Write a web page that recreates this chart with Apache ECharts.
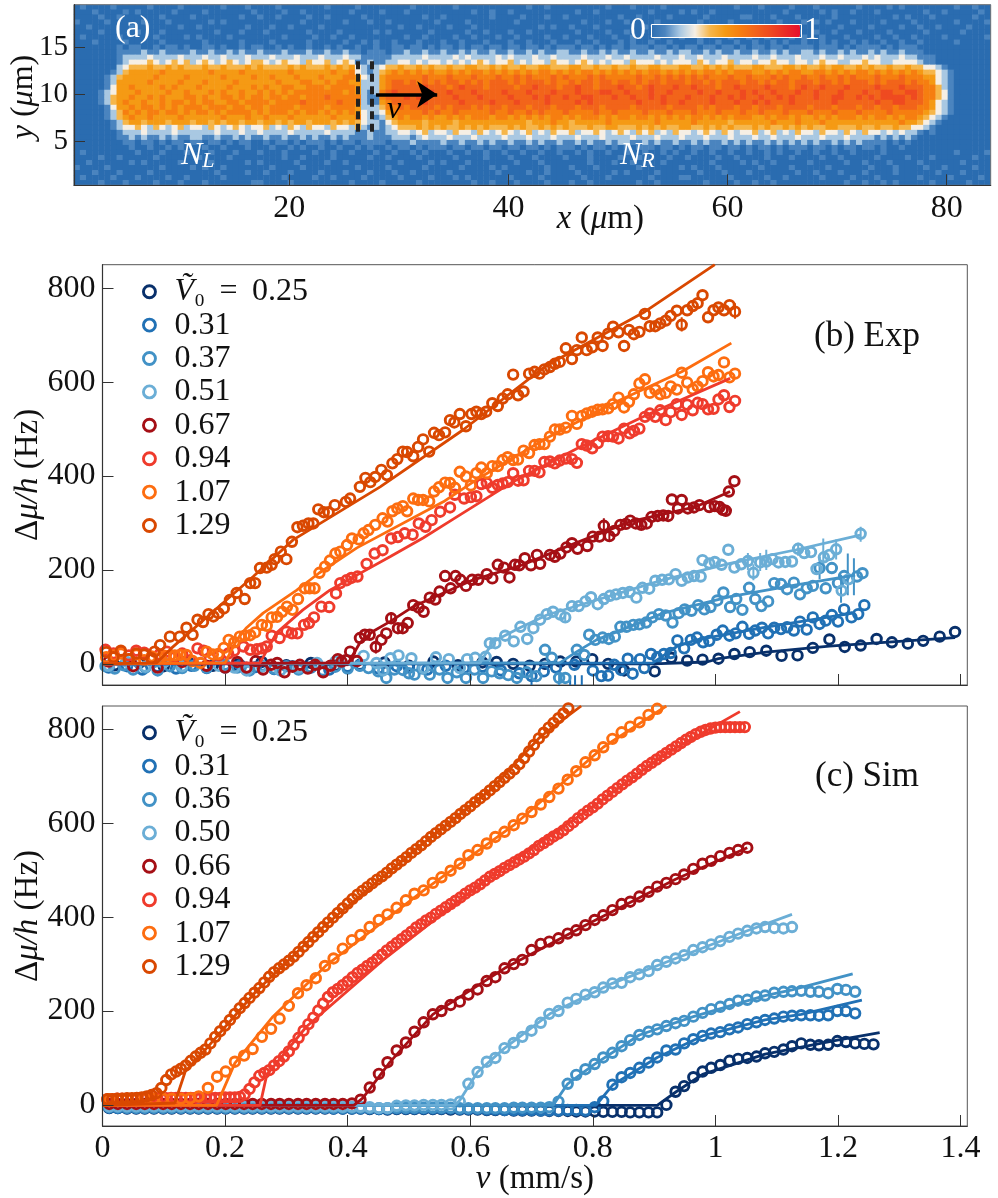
<!DOCTYPE html>
<html>
<head>
<meta charset="utf-8">
<style>
  html, body { margin: 0; padding: 0; background: #fff; }
  #main { width: 998px; height: 1198px; }
</style>
<script src="https://cdn.jsdelivr.net/npm/echarts@6/dist/echarts.min.js"></script>
</head>
<body>
<div id="main"></div>
<script>
// panel (a): density image, one digit per cell (digit/10 = colour bar value), rows from the top
const heatRows = [
  "0100001000 0010000100 0000100010 0001000000 0100001000 0000010000 0010000000 0000100100 0000000100 0100001000 0000000010 0010000100 0100000010 0001010000 0000100100",
  "0001000010 1000001000 0100000001 0000100100 0000010000 1000100000 0000010010 0100000000 0010010000 0000100001 0100100000 0000001000 0010100100 0100000001 0010000010",
  "0000100100 0000100001 0000000100 1001000010 0100000100 0000000100 1000000010 0001000100 1000000001 0010000100 0001000001 1000100010 0000100000 0000101000 1000000100",
  "1000010000 0100010000 0010100000 0000000100 0000100010 0100000001 0000100000 0010000000 0001000100 1000010000 0010000100 0000010001 0101000100 0010000100 0000100001",
  "0010000001 0000000100 1000000010 0010010000 1000000000 0001001000 0100010000 0000001010 0100010000 0001000010 1000001000 0100100000 0000010000 1000010010 0100001000",
  "0000100000 1000100000 0001000100 0100000010 0001000001 0100000010 0000100100 0100100000 0010000100 1000001000 0001010000 0010000010 0100100010 0001000001 0000010000",
  "0100000100 0001000010 1000010000 0000100001 0010010000 0000100100 0010010001 0010000100 1000100010 0100010001 0010000100 1001000101 0010001000 0100100100 0010000001",
  "0001000010 0000100000 0100000100 0010000010 0000100101 0010001000 1001000100 0100100010 0010010001 0100100100 0010010010 0100101001 0010100101 0010010010 0000100000",
  "0000000101 1001011010 0110100101 1001010010 0101001001 0011011010 1101011011 0110110101 1101101011 0111011010 1101101101 0110110111 1011101011 1101011100 0000000000",
  "0000000111 1211211112 1121121211 2111211121 1211211011 1011211211 2112121121 1211212112 2112112121 1211211212 2112121121 1211212112 2121121211 2121121110 0000000000",
  "0000000122 2232222322 2322322232 2232223222 3222322111 1122222322 2232322223 2322232232 2223222322 3222232223 2232223222 2322322232 2232232223 2322232211 1000000000",
  "0000000123 3343234342 3432343234 4323433243 3423431121 1223323233 2323234323 3423233243 3234323233 2433323233 3243233423 3233433233 2343322334 3322333321 1000000000",
  "0000000234 4454454544 4544544454 5444454544 4545453212 3445445454 4544554454 5445445544 4554454454 4544554445 5445454544 4554445545 4454554454 5445445443 3210000000",
  "0000001245 5555655555 5565555655 5555565555 5565563212 4565656565 5656566565 6565656656 5656656565 6565665656 5656656566 6556565665 5665656566 5656565654 4321000000",
  "0000012455 5556555565 5555655556 5565556555 6555665322 5666666766 6766676667 6676766676 7666767666 6676676767 6767666766 7666767667 6676676766 6766676665 5321000000",
  "0000012555 5565555655 5655556555 5556555665 5656655222 5677676767 6776767677 7676777676 6767767767 7676776777 6776767776 7767677677 7677676777 6767776766 5321000000",
  "0000013556 5555656555 6555565556 5655665566 6566665222 5677777877 7678777677 7767787776 7787767778 7767877787 7877767787 7778777678 7787778777 7877787776 6421000000",
  "0000123555 6555565565 5565655655 6565656666 6666565212 6787777787 7877787777 8777877787 7787778877 8777877877 7787787778 7877877787 7877787778 7788778876 6431000000",
  "0000124556 5565655566 5655665656 6566566566 6766666211 6777878777 7787778777 7877787877 8778877787 7877878777 8777877878 7787787877 7877887787 8788887876 6431000000",
  "0000124565 5655656656 5665566566 6656666766 6667666211 5677777877 7778777787 7787777877 7787877777 7787778778 7777877787 7878777877 7777877777 7877887776 5321000000",
  "0000013556 5665656566 6566656656 6566665666 6566665222 4667677776 7677767677 6777677767 7767776777 7677777677 7767677767 7677767777 6777677767 7677677766 5321000000",
  "0000012465 6566566565 6656566665 6566656566 5656565322 3566666767 6676666676 6766767666 7666676676 6667666766 6766676667 6676667666 7666766676 6667666665 4321000000",
  "0000012456 5565555655 5555655565 5655565555 5565556321 2456566565 5656566656 6565656566 5656665656 6566565656 5665656566 6556566565 5656566656 5665656654 3210000000",
  "0000001245 5455545554 5545455455 4554545545 5545454322 1345555455 5545555555 5555455565 5455555655 5555565555 5655555455 5555655565 5565555555 5555565543 2100000000",
  "0000001233 4324323423 3243234323 3423243243 3243324212 1234445454 5445454544 4545445454 5444544554 4454545445 5445454544 4545445454 5445544454 4544544332 1000000000",
  "0000000122 2322223222 2223222322 3222232222 2322221121 1223323423 3243324323 4323423243 3423343234 3243423243 3234324323 3423423243 3243324324 3323232210 1000000000",
  "0000000112 1211212112 2112112121 1211211212 1121211121 1122212322 2322232222 3222322232 2232223222 2322232223 2223222322 2322322232 2232223222 2121212100 0000000000",
  "0000000011 0110101101 1011010110 0101101011 1010110111 1011121111 2112112121 1211212112 1121211212 2112121121 1212112121 2112121212 1211212121 1110101000 0000000000",
  "0000000001 0010010100 0100100010 0010010100 1001001010 0101101011 1011011011 0110110101 1101011010 1011101101 0110110110 1011010111 0110101101 1010010000 0000000000",
  "0100000000 1000100010 0010001000 1000100001 0010010001 0010010100 0100100100 1001001001 0010100100 1001001010 0100100100 1001010010 0100100100 0010000000 0000100001",
  "0000100100 0001000000 1000010000 0000100100 0010000010 0100001000 0010000100 0100010000 1000100001 0010000100 1000010010 0001000100 0010010000 0100001000 1000000100",
  "0010000001 0100000100 0010000010 1000001000 0100100000 0001000010 1000100000 0010001000 0000100010 0100001000 0000100001 0100100000 1000001001 0001000010 0000010000",
  "1000010000 0000100001 0100100000 0010000100 0000001000 0100000100 0001000010 1000000100 0100010000 0010000001 0100010000 0010000100 0001000000 1000100001 0010000100",
  "0001000100 0010000000 0001000010 0100010000 1000100010 0010010000 0100000001 0000100100 0010000010 1000010000 0010001000 1000000010 0100010001 0000100000 0100010000",
  "0100001000 1000010010 0000100000 0000100001 0010000100 0001000010 0010100000 0100001000 0001000100 0000100001 1000000100 0001001000 0010000100 0100000010 0001000010",
  "0000100010 0001000100 0100000001 1000010000 0000010000 1000001000 0000010010 0010000100 0100100000 0010010000 0001000010 0100100000 0000001001 0010100000 1000001000"
];
const barrierXs = [26.27, 27.55];
const barrierYs = [6.06, 14];
const arrowFrom = [27.91, 10];
const arrowTo = [33.5, 10];

const yTicks = [0, 200, 400, 600, 800];
const vTicks = [0, 0.2, 0.4, 0.6, 0.8, 1, 1.2, 1.4];
const xTicksA = [20, 40, 60, 80];
const yTicksA = [5, 10, 15];

const colors = ["#08306b", "#2171b5", "#4292c6", "#6baed6", "#a50f15", "#ef3b2c", "#fd6d10", "#d94801"];
const expNames = ["0.25", "0.31", "0.37", "0.51", "0.67", "0.94", "1.07", "1.29"];
const simNames = ["0.25", "0.31", "0.36", "0.50", "0.66", "0.94", "1.07", "1.29"];

// panel (b): measured points [v, delta mu / h]
const exp025 = [[0.02,-3],[0.06,2],[0.1,-5],[0.14,3],[0.18,-4],[0.22,-2],[0.26,4],[0.3,-3],[0.34,2],[0.38,-4],[0.42,-2],[0.46,3],[0.5,-4],[0.54,5],[0.58,-3],[0.62,3],[0.643,4],[0.67,0],[0.697,-4],[0.722,0],[0.747,5],[0.773,5],[0.799,10],[0.825,0],[0.851,-14],[0.901,-16],[0.928,13],[0.954,7],[0.979,9],[1.005,11],[1.031,21],[1.056,25],[1.083,28],[1.108,17],[1.134,18],[1.159,34],[1.186,52],[1.211,36],[1.237,39],[1.263,53],[1.288,46],[1.314,43],[1.339,49],[1.366,58],[1.391,68]];
const exp031 = [[0.01,-8],[0.04,-5],[0.065,-12],[0.09,-6],[0.12,-10],[0.145,-4],[0.17,-9],[0.2,-8],[0.225,-3],[0.25,-7],[0.28,-11],[0.31,-5],[0.34,-8],[0.37,-12],[0.4,-6],[0.42,-3],[0.45,-10],[0.48,-5],[0.5,-8],[0.53,-12],[0.56,-4],[0.59,-9],[0.62,-6],[0.65,-14],[0.68,-20],[0.7,-26],[0.72,-16],[0.74,-8],[0.77,-2],[0.8,-14],[0.814,-26],[0.825,-25],[0.835,-2],[0.846,-13],[0.857,11],[0.865,-21],[0.877,10],[0.884,-9],[0.895,21],[0.905,14],[0.916,21],[0.927,23],[0.938,50],[0.949,33],[0.96,51],[0.97,56],[0.98,46],[0.99,49],[1.002,62],[1.012,71],[1.023,60],[1.033,65],[1.044,79],[1.055,64],[1.065,71],[1.076,77],[1.086,65],[1.096,77],[1.107,74],[1.117,78],[1.128,71],[1.138,90],[1.149,73],[1.159,99],[1.17,85],[1.18,92],[1.19,104],[1.2,90],[1.21,116],[1.222,99],[1.233,106],[1.243,125]];
const exp037 = [[0.005,-5],[0.02,-10],[0.035,-3],[0.05,-12],[0.07,-8],[0.09,-14],[0.11,-5],[0.13,-9],[0.15,-4],[0.17,-8],[0.2,-2],[0.22,-8],[0.24,-14],[0.26,-4],[0.28,-10],[0.3,-5],[0.32,-12],[0.34,-7],[0.36,-14],[0.38,-6],[0.4,-10],[0.42,-4],[0.434,-9],[0.45,-16],[0.463,-30],[0.476,-12],[0.49,-13],[0.5,-20],[0.509,-23],[0.522,-10],[0.534,-23],[0.55,-12],[0.563,-30],[0.578,-18],[0.593,-30],[0.607,-12],[0.621,-30],[0.635,-16],[0.648,-20],[0.662,-24],[0.676,-30],[0.692,-18],[0.708,-26],[0.722,30],[0.733,13],[0.745,-30],[0.755,-30],[0.774,30],[0.786,19],[0.794,62],[0.804,51],[0.816,56],[0.826,53],[0.836,58],[0.845,79],[0.855,79],[0.866,83],[0.876,84],[0.887,88],[0.897,99],[0.908,106],[0.919,103],[0.93,88],[0.94,108],[0.95,116],[0.961,113],[0.972,125],[0.982,116],[0.992,121],[1.003,135],[1.013,152],[1.024,121],[1.034,138],[1.044,115],[1.055,162],[1.065,138],[1.075,123],[1.086,133],[1.096,172],[1.107,170],[1.117,159],[1.128,173],[1.138,148],[1.149,161],[1.159,166],[1.17,204],[1.18,161],[1.19,204],[1.2,172],[1.21,187],[1.231,186],[1.24,193]];
const exp051 = [[0.01,-4],[0.04,4],[0.07,-6],[0.1,3],[0.13,-5],[0.16,2],[0.19,-4],[0.215,-8],[0.235,-14],[0.26,-6],[0.29,-14],[0.32,-8],[0.35,2],[0.38,5],[0.4,8],[0.426,17],[0.447,2],[0.458,-14],[0.47,12],[0.483,18],[0.504,12],[0.524,-9],[0.544,14],[0.565,10],[0.583,-9],[0.595,10],[0.608,13],[0.625,15],[0.632,44],[0.641,44],[0.657,60],[0.671,48],[0.682,79],[0.693,53],[0.703,76],[0.714,94],[0.725,106],[0.735,111],[0.747,105],[0.755,99],[0.766,123],[0.777,123],[0.788,133],[0.797,142],[0.808,127],[0.818,138],[0.828,145],[0.838,148],[0.849,151],[0.86,153],[0.871,141],[0.881,162],[0.892,160],[0.902,177],[0.913,179],[0.924,180],[0.935,191],[0.945,177],[0.955,184],[0.965,187],[0.976,186],[0.979,221],[0.99,214],[0.999,217],[1.01,211],[1.021,243],[1.031,205],[1.042,212],[1.053,219],[1.062,194],[1.073,216],[1.083,218],[1.093,223],[1.103,216],[1.114,217],[1.125,218],[1.135,245],[1.145,236],[1.156,238],[1.165,202],[1.177,227],[1.186,232],[1.197,244],[1.206,156],[1.217,180],[1.237,277]];
const exp067 = [[0.01,5],[0.05,-5],[0.09,-8],[0.13,4],[0.17,-4],[0.2,-8],[0.22,4],[0.235,-8],[0.25,6],[0.262,-12],[0.275,-2],[0.285,2],[0.297,-18],[0.31,-6],[0.322,-2],[0.335,-10],[0.347,-2],[0.36,-18],[0.372,-4],[0.384,10],[0.39,5],[0.397,8],[0.404,26],[0.415,6],[0.42,55],[0.428,62],[0.436,62],[0.446,36],[0.455,51],[0.463,65],[0.471,97],[0.482,76],[0.49,76],[0.498,87],[0.507,125],[0.516,120],[0.524,111],[0.534,141],[0.543,137],[0.55,154],[0.559,187],[0.568,161],[0.576,187],[0.584,179],[0.593,166],[0.603,179],[0.613,179],[0.627,191],[0.636,182],[0.645,211],[0.655,205],[0.664,184],[0.673,211],[0.68,210],[0.689,225],[0.699,210],[0.709,232],[0.714,213],[0.73,232],[0.738,228],[0.747,235],[0.757,248],[0.766,257],[0.775,245],[0.791,251],[0.8,271],[0.811,271],[0.818,294],[0.827,272],[0.835,283],[0.845,296],[0.854,298],[0.861,305],[0.87,299],[0.879,296],[0.888,299],[0.896,313],[0.906,315],[0.915,316],[0.923,315],[0.929,350],[0.939,331],[0.945,349],[0.955,331],[0.965,333],[0.974,338],[0.99,334],[0.999,336],[1.007,334],[1.012,328],[1.017,326],[1.022,367],[1.031,389]];
const exp094 = [[0.005,30],[0.018,22],[0.03,25],[0.043,18],[0.055,28],[0.068,24],[0.08,12],[0.093,20],[0.105,26],[0.118,15],[0.13,22],[0.143,8],[0.155,33],[0.165,28],[0.175,12],[0.19,18],[0.205,22],[0.215,28],[0.23,37],[0.241,30],[0.252,31],[0.26,33],[0.268,37],[0.276,60],[0.289,55],[0.3,69],[0.309,65],[0.318,65],[0.329,83],[0.337,87],[0.345,99],[0.357,122],[0.37,121],[0.381,150],[0.388,172],[0.398,178],[0.406,183],[0.416,186],[0.431,213],[0.444,235],[0.457,242],[0.471,267],[0.482,270],[0.493,278],[0.506,275],[0.516,299],[0.527,292],[0.537,306],[0.551,324],[0.567,333],[0.575,360],[0.59,352],[0.601,355],[0.61,357],[0.618,383],[0.627,385],[0.636,375],[0.645,381],[0.653,384],[0.661,387],[0.67,406],[0.678,390],[0.687,391],[0.696,411],[0.705,411],[0.713,408],[0.721,430],[0.73,431],[0.738,427],[0.746,433],[0.756,437],[0.766,436],[0.774,428],[0.782,468],[0.79,465],[0.799,459],[0.808,470],[0.816,484],[0.825,485],[0.833,484],[0.842,480],[0.851,501],[0.86,491],[0.867,496],[0.876,501],[0.885,526],[0.893,533],[0.902,526],[0.91,540],[0.919,519],[0.927,536],[0.937,553],[0.945,530],[0.954,552],[0.963,540],[0.971,556],[0.979,553],[0.988,542],[0.997,543],[1.005,563],[1.014,572],[1.023,547],[1.032,560]];
const exp107 = [[0.006,14],[0.018,18],[0.03,22],[0.043,10],[0.055,20],[0.068,8],[0.08,16],[0.093,12],[0.102,17],[0.11,17],[0.118,18],[0.127,19],[0.137,19],[0.147,6],[0.16,2],[0.17,26],[0.18,20],[0.189,21],[0.198,34],[0.206,51],[0.215,46],[0.224,58],[0.232,60],[0.241,61],[0.249,67],[0.26,83],[0.268,81],[0.276,99],[0.285,100],[0.293,111],[0.301,122],[0.31,115],[0.319,138],[0.33,161],[0.338,161],[0.346,161],[0.354,194],[0.363,207],[0.371,220],[0.38,235],[0.388,239],[0.399,253],[0.407,267],[0.418,265],[0.426,278],[0.434,285],[0.445,296],[0.457,310],[0.465,303],[0.473,325],[0.481,331],[0.49,336],[0.497,325],[0.507,352],[0.515,349],[0.523,349],[0.533,346],[0.541,367],[0.549,376],[0.559,386],[0.567,385],[0.575,375],[0.583,409],[0.593,399],[0.601,380],[0.61,406],[0.618,418],[0.627,406],[0.636,421],[0.645,421],[0.653,434],[0.661,440],[0.67,434],[0.678,435],[0.687,454],[0.696,449],[0.705,466],[0.713,468],[0.721,468],[0.73,484],[0.738,499],[0.746,499],[0.756,503],[0.766,528],[0.774,511],[0.782,528],[0.79,533],[0.799,537],[0.808,541],[0.816,542],[0.825,544],[0.833,553],[0.842,567],[0.851,546],[0.859,558],[0.867,574],[0.876,597],[0.885,606],[0.893,577],[0.902,584],[0.91,574],[0.919,577],[0.927,591],[0.937,584],[0.945,620],[0.954,599],[0.963,585],[0.971,591],[0.979,602],[0.988,621],[0.997,612],[1.005,615],[1.014,642],[1.023,610],[1.032,618]];
const exp129 = [[0.006,25],[0.018,14],[0.03,28],[0.043,10],[0.055,22],[0.068,20],[0.08,12],[0.085,26],[0.094,40],[0.11,58],[0.126,58],[0.137,77],[0.147,62],[0.155,94],[0.164,89],[0.173,106],[0.181,101],[0.189,108],[0.198,118],[0.208,136],[0.219,151],[0.232,138],[0.241,172],[0.249,172],[0.257,204],[0.268,205],[0.276,211],[0.281,223],[0.291,239],[0.3,223],[0.309,260],[0.318,291],[0.327,294],[0.336,299],[0.344,299],[0.352,329],[0.361,323],[0.369,323],[0.379,338],[0.397,345],[0.404,352],[0.42,377],[0.429,396],[0.437,387],[0.445,398],[0.455,413],[0.464,402],[0.473,427],[0.481,436],[0.49,452],[0.497,451],[0.507,442],[0.515,462],[0.523,478],[0.533,452],[0.541,492],[0.549,487],[0.559,493],[0.567,519],[0.574,514],[0.583,532],[0.593,506],[0.602,532],[0.61,537],[0.618,532],[0.626,537],[0.636,555],[0.645,549],[0.653,565],[0.661,574],[0.67,616],[0.678,572],[0.687,580],[0.696,618],[0.705,622],[0.713,618],[0.721,627],[0.73,632],[0.738,639],[0.746,643],[0.756,672],[0.766,649],[0.774,668],[0.782,695],[0.79,668],[0.799,674],[0.808,695],[0.816,677],[0.825,703],[0.833,718],[0.842,706],[0.851,677],[0.859,711],[0.867,702],[0.876,707],[0.885,745],[0.893,719],[0.902,719],[0.91,725],[0.919,731],[0.927,741],[0.937,752],[0.945,722],[0.954,753],[0.963,762],[0.971,768],[0.979,785],[0.988,738],[0.997,753],[1.005,759],[1.014,753],[1.023,764],[1.032,750]];

// panel (b): model curves
const fit025 = [[0,0],[0.898,0],[0.986,4],[1.005,11],[1.083,25],[1.186,38],[1.288,47],[1.391,56]];
const fit031 = [[0,0],[0.898,2],[0.937,37],[0.969,51],[1.078,77],[1.224,108]];
const fit037 = [[0,0],[0.746,2],[0.774,26],[0.806,51],[0.915,108],[1.024,143],[1.132,168],[1.228,189]];
const fit051 = [[0,0],[0.616,2],[0.637,47],[0.681,77],[0.725,104],[0.806,136],[0.915,179],[1.024,214],[1.132,243],[1.236,274]];
const fit067 = [[0,0],[0.401,2],[0.42,45],[0.441,69],[0.469,90],[0.507,122],[0.55,147],[0.605,179],[0.686,211],[0.752,247],[0.861,303],[0.969,335],[1.024,367]];
const fit094 = [[0,0],[0.257,2],[0.284,66],[0.327,115],[0.371,157],[0.415,189],[0.469,228],[0.523,268],[0.567,304],[0.67,388],[0.779,462],[0.888,530],[1.024,608]];
const fit107 = [[0,0],[0.2,2],[0.219,51],[0.235,77],[0.262,108],[0.317,157],[0.354,194],[0.415,247],[0.556,345],[0.616,397],[0.725,481],[0.833,555],[0.945,622],[1.026,683]];
const fit129 = [[0,0],[0.088,2],[0.113,34],[0.197,130],[0.246,186],[0.311,264],[0.453,377],[0.588,498],[0.725,636],[0.885,750],[0.999,850]];

// panel (b): error bars [v, low, high]
const err037 = [[1.216,146,235],[1.226,146,225],[1.205,130,190],[1.17,180,228],[0.745,-45,-22]];
const err051 = [[1.237,260,292],[1.135,230,258],[1.176,200,267],[1.197,222,265],[1.083,200,243],[1.073,198,236],[1.053,200,236],[1.062,178,212],[0.755,88,110]];
const err031 = [[0.763,-45,-24],[0.771,-45,-24],[0.782,-45,-24],[0.7,-45,-25]];
const err067 = [[0.818,280,310],[0.827,260,286],[0.471,85,110],[0.446,22,50],[0.879,285,310]];
const err129 = [[0.945,708,738],[1.032,735,768]];

// panel (c): simulated points, values picked by index from the v lists
const simV = [0.011,0.025,0.04,0.055,0.069,0.084,0.099,0.113,0.128,0.143,0.157,0.172,0.187,0.201,0.216,0.231,0.245,0.26,0.275,0.289,0.304,0.319,0.333,0.348,0.363,0.377,0.392,0.407,0.421,0.436,0.451,0.465,0.48,0.495,0.509,0.524,0.539,0.553,0.568,0.583,0.597,0.612,0.627,0.641,0.656,0.671,0.685,0.7,0.715,0.729,0.744,0.759,0.773,0.788,0.803,0.817,0.832,0.847,0.861,0.876,0.891,0.905,0.92,0.935,0.949,0.964,0.979,0.993,1.008,1.023,1.037,1.052,1.067,1.081,1.096,1.111,1.125,1.14,1.155,1.169,1.184,1.199,1.213,1.228,1.243,1.258];
const simVDense = [0.008,0.016,0.024,0.032,0.04,0.048,0.056,0.064,0.072,0.08,0.088,0.096,0.104,0.112,0.12,0.128,0.136,0.144,0.152,0.16,0.168,0.176,0.184,0.192,0.2,0.208,0.216,0.224,0.232,0.24,0.248,0.256,0.264,0.272,0.28,0.288,0.296,0.304,0.312,0.32,0.328,0.336,0.344,0.352,0.36,0.368,0.376,0.384,0.392,0.4,0.408,0.416,0.424,0.432,0.44,0.448,0.456,0.464,0.472,0.48,0.488,0.496,0.504,0.512,0.52,0.528,0.536,0.544,0.552,0.56,0.568,0.576,0.584,0.592,0.6,0.608,0.616,0.624,0.632,0.64,0.648,0.656,0.664,0.672,0.68,0.688,0.696,0.704,0.712,0.72,0.728,0.736,0.744,0.752,0.76,0.768,0.776,0.784,0.792,0.8,0.808,0.816,0.824,0.832,0.84,0.848,0.856,0.864,0.872,0.88,0.888,0.896,0.904,0.912,0.92,0.928,0.936,0.944,0.952,0.96,0.968,0.976,0.984,0.992,1,1.008,1.016,1.024,1.032,1.04,1.048];
const sim025 = [-7,-7,-8,-8,-8,-8,-8,-8,-8,-8,-8,-8,-8,-8,-8,-8,-8,-8,-8,-8,-8,-8,-8,-8,-8,-8,-8,-8,-8,-9,-9,-10,-9,-9,-9,-9,-9,-9,-10,-10,-10,-10,-11,-11,-11,-12,-12,-12,-12,-13,-13,-13,-14,-14,-14,-15,-15,-15,-16,-16,-16,-16,0,28,40,59,71,79,85,94,98,100,103,110,113,118,125,131,128,127,128,136,134,131,130,129];
const sim031 = [-6,-7,-7,-7,-7,-7,-7,-7,-7,-7,-7,-7,-7,-7,-7,-7,-7,-7,-7,-7,-7,-7,-7,-7,-7,-8,-8,-8,-8,-8,-9,-9,-8,-8,-8,-8,-8,-8,-8,-9,-9,-9,-10,-10,-11,-11,-11,-11,-12,-12,-12,-11,-11,-12,-5,8,43,59,68,79,90,101,116,118,131,140,147,152,155,161,165,172,176,181,184,188,190,191,191,190,191,200,200,195];
const sim036 = [-5,-5,-6,-6,-6,-6,-6,-6,-6,-6,-6,-6,-6,-6,-6,-6,-6,-6,-6,-6,-6,-6,-6,-6,-6,-6,-6,-6,-6,-7,-7,-7,-6,-6,-6,-6,-6,-6,-6,-7,-7,-7,-7,-7,-7,-6,-6,-6,-6,-5,7,45,64,76,87,101,111,125,138,149,156,161,168,174,179,188,196,204,209,215,222,224,231,233,239,241,242,243,241,241,238,247,245,241];
const sim050 = [-3,-3,-3,-3,-3,-3,-3,-3,-3,-3,-3,-3,-3,-3,-3,-3,-3,-3,-3,-3,-3,-3,-3,-3,-3,-3,-4,-4,-4,-5,-7,-7,-2,-1,-1,0,0,0,1,7,45,70,92,100,121,132,145,158,175,194,200,218,226,235,240,250,259,260,272,278,285,298,305,312,319,330,336,342,349,358,365,371,376,379,377,376,379];
const sim066 = [2,2,2,2,2,2,2,2,2,2,2,2,2,2,2,2,2,2,2,2,2,2,2,2,2,2,2,3,11,37,66,91,116,133,156,176,193,200,213,220,235,246,264,272,291,300,309,330,343,348,355,365,372,383,394,404,415,428,433,444,454,465,473,481,491,503,514,520,530,537,543,548];
const sim107 = [12,12,12,12,13,13,13,13,13,14,18,36,60,71,92,105,119,145,162,184,211,238,255,270,296,312,333,351,362,379,394,406,420,436,450,457,473,485,499,514,532,543,557,571,582,596,610,624,640,656,674,693,711,730,745,762,780,794,806,815,831,844];
const sim094 = [12,12,13,13,13,13,14,14,14,14,14,14,14,15,15,15,15,15,15,15,15,15,15,15,16,16,16,17,22,34,48,62,68,74,84,93,103,114,128,143,158,172,186,201,216,230,240,247,255,263,272,281,288,296,303,311,320,329,337,345,353,361,369,378,385,393,399,407,414,421,428,435,442,450,457,463,470,478,486,492,498,505,511,517,523,529,536,543,552,558,565,572,578,585,594,602,611,619,627,634,642,651,659,667,675,683,691,698,706,714,722,729,736,743,750,757,764,771,778,784,790,795,799,802,804,805,805,805,805,805,805];
const sim129 = [12,12,13,13,14,14,15,16,18,21,25,36,53,65,71,77,84,94,103,111,118,131,145,157,169,181,194,206,217,228,239,249,261,273,283,291,299,307,316,326,337,347,358,368,379,389,399,409,419,429,439,448,456,464,472,480,487,495,504,512,520,528,537,545,553,562,571,579,587,595,603,611,620,628,636,645,653,661,670,679,688,697,706,715,726,739,753,767,781,793,804,814,824,834,845,855];

// panel (c): model curves
const line025 = [[0,-1],[0.905,-1],[0.936,28],[0.979,65],[1.081,108],[1.199,138],[1.268,154]];
const line031 = [[0,-1],[0.805,-1],[0.833,43],[0.905,101],[0.979,147],[1.081,181],[1.14,193],[1.239,223]];
const line036 = [[0,-1],[0.735,-1],[0.759,45],[0.803,87],[0.876,149],[0.964,188],[1.081,233],[1.125,245],[1.224,279]];
const line050 = [[0,-1],[0.575,-1],[0.583,10],[0.612,70],[0.656,121],[0.73,194],[0.832,259],[0.935,312],[1.052,371],[1.125,406]];
const line066 = [[0,-1],[0.41,-1],[0.425,15],[0.469,91],[0.539,193],[0.656,291],[0.788,383],[0.935,481],[1.052,548]];
const line094 = [[0,-1],[0.257,-1],[0.268,64],[0.333,167],[0.458,309],[0.632,486],[0.807,642],[0.915,745],[1.04,838]];
const line107 = [[0,-1],[0.186,-1],[0.216,89],[0.278,188],[0.364,296],[0.524,457],[0.671,596],[0.817,762],[0.92,850]];
const line129 = [[0,-1],[0.118,4],[0.135,71],[0.17,121],[0.25,241],[0.36,379],[0.523,557],[0.632,670],[0.714,784],[0.781,850]];

const serif = "'Liberation Serif', 'DejaVu Serif', serif";
const axisColor = "#333";

function zipValues(xs, ys) {
  return ys.map((y, i) => [xs[i], y]);
}

function heatData() {
  let out = [];
  heatRows.forEach((row, r) => {
    let cells = row.replace(/ /g, "");
    for (let c = 0; c < cells.length; c++) {
      out.push([c, heatRows.length - 1 - r, Number(cells[c]) / 10]);
    }
  });
  return out;
}

function valueAxis(grid, min, max, ticks, extra) {
  return Object.assign({
    type: "value",
    gridIndex: grid,
    min: min,
    max: max,
    z: 4,
    nameMoveOverlap: false,
    splitLine: { show: false },
    axisLine: { show: true, onZero: false, lineStyle: { color: axisColor, width: 1.2 } },
    axisTick: { show: true, inside: true, length: 11, customValues: ticks, lineStyle: { color: axisColor, width: 1 } },
    axisLabel: { show: true, customValues: ticks, color: "#111", fontSize: 32, fontFamily: serif, margin: 7 }
  }, extra || {});
}

function scatterSeries(name, data, color, axis) {
  return {
    type: "scatter",
    name: name,
    xAxisIndex: axis,
    yAxisIndex: axis,
    data: data,
    symbol: "circle",
    symbolSize: 9.5,
    itemStyle: { color: "rgba(255,255,255,0)", borderColor: color, borderWidth: 2.9, opacity: 1 },
    emphasis: { disabled: true }
  };
}

function lineSeries(data, color, axis) {
  return {
    type: "line",
    xAxisIndex: axis,
    yAxisIndex: axis,
    data: data,
    symbol: "none",
    lineStyle: { color: color, width: 2.8 }
  };
}

function errSeries(data, color) {
  return {
    type: "custom",
    xAxisIndex: 2,
    yAxisIndex: 2,
    data: data,
    clip: true,
    renderItem: function (params, api) {
      let a = api.coord([api.value(0), api.value(1)]);
      let b = api.coord([api.value(0), api.value(2)]);
      return {
        type: "line",
        shape: { x1: a[0], y1: a[1], x2: b[0], y2: b[1] },
        style: { stroke: color, lineWidth: 2 }
      };
    }
  };
}

function legendFor(names, top) {
  return {
    left: 142,
    top: top,
    orient: "vertical",
    selectedMode: false,
    data: names,
    icon: "circle",
    itemWidth: 12,
    itemHeight: 12,
    itemGap: 0,
    padding: 0,
    itemStyle: { color: "#fff", borderWidth: 2.9 },
    textStyle: {
      color: "#111",
      fontSize: 32,
      fontFamily: serif,
      lineHeight: 33.4,
      padding: [0, 0, 0, 14],
      rich: {
        v: { fontStyle: "italic", fontSize: 32, fontFamily: serif, lineHeight: 33.4 },
        n: { fontSize: 32, fontFamily: serif, lineHeight: 33.4 }
      }
    },
    formatter: function (name) {
      return name === "0.25" ? "{v|\u1E7C}{n|\u2080 \u2009= \u20090.25}" : name;
    }
  };
}

let expSets = [exp025, exp031, exp037, exp051, exp067, exp094, exp107, exp129];
let expFits = [fit025, fit031, fit037, fit051, fit067, fit094, fit107, fit129];
let simSets = [
  zipValues(simV, sim025), zipValues(simV, sim031), zipValues(simV, sim036), zipValues(simV, sim050),
  zipValues(simV, sim066), zipValues(simVDense, sim094), zipValues(simV, sim107), zipValues(simVDense, sim129)
];
let simFits = [line025, line031, line036, line050, line066, line094, line107, line129];

let series = [
  {
    type: "heatmap",
    xAxisIndex: 0,
    yAxisIndex: 0,
    data: heatData(),
    z: 1,
    emphasis: { disabled: true },
    itemStyle: { borderWidth: 0 }
  },
  {
    type: "line",
    xAxisIndex: 1,
    yAxisIndex: 1,
    symbol: "none",
    z: 3,
    data: [[barrierXs[0], barrierYs[0]], [barrierXs[0], barrierYs[1]]],
    lineStyle: { color: "#222", width: 4, type: [8, 4.5] }
  },
  {
    type: "line",
    xAxisIndex: 1,
    yAxisIndex: 1,
    symbol: "none",
    z: 3,
    data: [[barrierXs[1], barrierYs[0]], [barrierXs[1], barrierYs[1]]],
    lineStyle: { color: "#222", width: 4, type: [8, 4.5] }
  },
  {
    type: "lines",
    coordinateSystem: "cartesian2d",
    xAxisIndex: 1,
    yAxisIndex: 1,
    z: 3,
    symbol: ["none", "arrow"],
    symbolSize: 20,
    data: [{ coords: [arrowFrom, arrowTo] }],
    lineStyle: { color: "#000", width: 3.6, opacity: 1 }
  }
];

expSets.forEach((set, i) => {
  series.push(lineSeries(expFits[i], colors[i], 2));
  series.push(scatterSeries(expNames[i], set, colors[i], 2));
});
series.push(errSeries(err031, colors[1]));
series.push(errSeries(err037, colors[2]));
series.push(errSeries(err051, colors[3]));
series.push(errSeries(err067, colors[4]));
series.push(errSeries(err129, colors[7]));
simSets.forEach((set, i) => {
  series.push(lineSeries(simFits[i], colors[i], 3));
  series.push(scatterSeries(simNames[i], set, colors[i], 3));
});

let yName = "\u0394{i|\u03BC/h} (Hz)";
let nameStyle = {
  color: "#111",
  fontSize: 33,
  fontFamily: serif,
  rich: { i: { fontStyle: "italic", fontSize: 33, fontFamily: serif } }
};

let option = {
  animation: false,
  backgroundColor: "#fff",
  grid: [
    { left: 74, top: 4.7, width: 916.7, height: 180.6, outerBoundsMode: "none" },
    { left: 74, top: 4.7, width: 916.7, height: 180.6, outerBoundsMode: "none", show: true, borderColor: "#777", borderWidth: 1, z: 4, backgroundColor: "transparent" },
    { left: 102.5, top: 264.7, width: 864.8, height: 420.3, outerBoundsMode: "none", show: true, borderColor: "#555", borderWidth: 1 },
    { left: 102.5, top: 706, width: 864.8, height: 420, outerBoundsMode: "none", show: true, borderColor: "#555", borderWidth: 1 }
  ],
  xAxis: [
    { type: "category", gridIndex: 0, data: heatRows[0].replace(/ /g, "").split("").map((d, i) => i), show: false },
    valueAxis(1, 0.35, 84.02, xTicksA, {
      name: "{i|x} ({i|\u03BC}m)",
      nameLocation: "middle",
      nameGap: 18,
      nameTextStyle: Object.assign({}, nameStyle, { padding: [0, 0, 0, 136] })
    }),
    valueAxis(2, 0, 1.411, vTicks, { axisLabel: { show: false } }),
    valueAxis(3, 0, 1.411, vTicks, {
      name: "{i|v} (mm/s)",
      nameLocation: "middle",
      nameGap: 37,
      nameTextStyle: nameStyle
    })
  ],
  yAxis: [
    { type: "category", gridIndex: 0, data: heatRows.map((d, i) => i), show: false },
    valueAxis(1, 0.38, 19.51, yTicksA, {
      axisLabel: { show: true, customValues: yTicksA, color: "#111", fontSize: 29, fontFamily: serif, margin: 6 }
    }),
    valueAxis(2, -45, 850, yTicks, {
      name: yName,
      nameLocation: "middle",
      nameRotate: 90,
      nameGap: 58,
      nameTextStyle: nameStyle
    }),
    valueAxis(3, -45, 850, yTicks, {
      name: yName,
      nameLocation: "middle",
      nameRotate: 90,
      nameGap: 58,
      nameTextStyle: nameStyle
    })
  ],
  visualMap: {
    type: "continuous",
    seriesIndex: 0,
    min: 0,
    max: 1,
    orient: "horizontal",
    left: 615,
    top: 0,
    itemWidth: 13,
    itemHeight: 150,
    text: ["1", "0"],
    textGap: 4,
    textStyle: { color: "#fff", fontSize: 32, fontFamily: serif },
    calculable: false,
    hoverLink: false,
    inRange: {
      color: ["#2a6cb0", "#4a84bf", "#a9c8e2", "#f6efe4", "#f6b64a", "#f59a14", "#f67e10", "#f2641a", "#ef4a20", "#ea2c26", "#e6102c"]
    }
  },
  legend: [legendFor(expNames, 275), legendFor(simNames, 716)],
  graphic: [
    {
      type: "text", x: 24, y: 97, rotation: Math.PI / 2, z: 10,
      style: {
        text: "{i|y} ({i|\u03BC}m)", fill: "#111", font: "32px " + serif, align: "center", verticalAlign: "middle",
        rich: { i: { fill: "#111", font: "italic 32px " + serif } }
      }
    },
    { type: "text", left: 115, top: 13, z: 10, style: { text: "(a)", fill: "#fff", font: "32px " + serif } },
    {
      type: "text", left: 181, top: 140, z: 10,
      style: {
        text: "{n|N}{s|L}", fill: "#fff",
        rich: {
          n: { fill: "#fff", font: "italic 32px " + serif },
          s: { fill: "#fff", font: "italic 22px " + serif, padding: [10, 0, 0, 0] }
        }
      }
    },
    {
      type: "text", left: 620, top: 140, z: 10,
      style: {
        text: "{n|N}{s|R}", fill: "#fff",
        rich: {
          n: { fill: "#fff", font: "italic 32px " + serif },
          s: { fill: "#fff", font: "italic 22px " + serif, padding: [10, 0, 0, 0] }
        }
      }
    },
    { type: "text", left: 387, top: 94, z: 10, style: { text: "v", fill: "#000", font: "italic 32px " + serif } },
    { type: "text", left: 814, top: 319, z: 10, style: { text: "(b) Exp", fill: "#111", font: "35px " + serif } },
    { type: "text", left: 815, top: 759, z: 10, style: { text: "(c) Sim", fill: "#111", font: "35px " + serif } },
    { type: "rect", left: 649, top: 22, z: 10, shape: { width: 150, height: 13 }, style: { fill: "none", stroke: "#fff", lineWidth: 1 } }
  ],
  series: series
};

let myChart = echarts.init(document.getElementById("main"), null, { renderer: "canvas" });
myChart.setOption(option);
</script>
</body>
</html>
